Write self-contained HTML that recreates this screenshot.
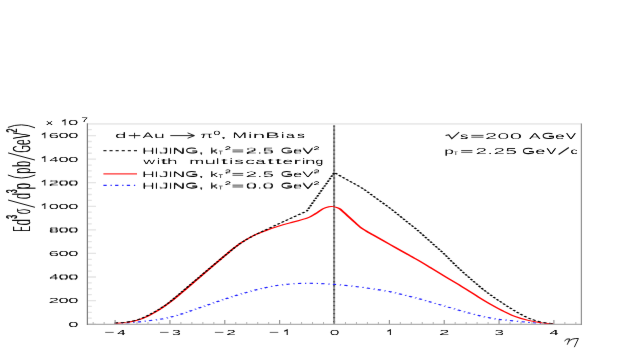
<!DOCTYPE html>
<html><head><meta charset="utf-8"><title>plot</title>
<style>
html,body{margin:0;padding:0;background:#fff;}
body{width:627px;height:349px;overflow:hidden;}
svg{display:block;}
text{font-family:"Liberation Sans",sans-serif;fill:#0a0a0a;font-kerning:none;text-rendering:geometricPrecision;}
</style></head><body>
<svg width="627" height="349" viewBox="0 0 627 349">
<defs><filter id="soft" filterUnits="userSpaceOnUse" x="0" y="0" width="627" height="349" color-interpolation-filters="sRGB"><feConvolveMatrix order="3" kernelMatrix="0.0016 0.0371 0.0016 0.0371 0.8450 0.0371 0.0016 0.0371 0.0016" edgeMode="duplicate" preserveAlpha="true"/></filter></defs>
<g filter="url(#soft)">
<rect x="0" y="0" width="627" height="349" fill="#ffffff"/>
<g transform="scale(1,0.4200)" fill="none">
<line x1="334.10" y1="298.81" x2="334.10" y2="771.43" stroke="#929292" stroke-width="2.0"/>
<line x1="334.10" y1="298.81" x2="334.10" y2="771.43" stroke="#555" stroke-width="2.0" stroke-dasharray="3.1 6.4"/>
<path d="M114.70 770.71 C119.27 769.84 132.97 767.98 142.10 765.48 C151.23 762.98 160.35 760.79 169.50 755.71 C178.65 750.63 187.85 742.22 197.00 735.00 C206.15 727.78 215.27 719.40 224.40 712.38 C233.53 705.36 242.65 698.41 251.80 692.86 C260.95 687.30 270.13 682.10 279.30 679.05 C288.47 675.99 297.65 674.84 306.80 674.52 C315.95 674.21 325.07 675.56 334.20 677.14 C343.33 678.73 352.47 681.19 361.60 684.05 C370.73 686.90 379.87 690.00 389.00 694.29 C398.13 698.57 407.27 704.09 416.40 709.76 C425.53 715.44 434.65 722.18 443.80 728.33 C452.95 734.48 463.17 741.67 471.30 746.67 C479.43 751.67 486.32 755.63 492.60 758.33 C498.88 761.03 503.05 761.31 509.00 762.86 C514.95 764.40 522.97 766.47 528.30 767.62 C533.63 768.77 536.80 769.17 541.00 769.76 C545.20 770.36 551.42 770.95 553.50 771.19" stroke="#2020ff" stroke-width="2.7" stroke-dasharray="3.3 3.8 1.3 3.3"/>
<path d="M114.70 770.24 C116.98 769.76 123.83 769.33 128.40 767.38 C132.97 765.44 137.53 762.78 142.10 758.57 C146.67 754.37 151.23 748.49 155.80 742.14 C160.37 735.79 162.63 733.25 169.50 720.48 C176.37 707.70 187.85 683.97 197.00 665.48 C206.15 646.98 217.23 623.77 224.40 609.52 C231.57 595.28 235.12 588.13 240.00 580.00 C244.88 571.87 249.40 565.91 253.70 560.71 C258.00 555.52 261.50 552.62 265.80 548.81 C270.10 545.00 274.92 541.23 279.50 537.86 C284.08 534.48 288.72 531.63 293.30 528.57 C297.88 525.52 303.28 522.86 307.00 519.52 C310.72 516.19 312.93 512.30 315.60 508.57 C318.27 504.84 320.77 499.88 323.00 497.14 C325.23 494.40 327.33 493.02 329.00 492.14 C330.67 491.27 331.33 491.23 333.00 491.90 C334.67 492.58 337.17 493.85 339.00 496.19 C340.83 498.53 342.25 502.34 344.00 505.95 C345.75 509.56 347.50 513.53 349.50 517.86 C351.50 522.18 354.08 527.82 356.00 531.90 C357.92 535.99 359.33 539.40 361.00 542.38 C362.67 545.36 364.00 546.94 366.00 549.76 C368.00 552.58 369.00 553.89 373.00 559.29 C377.00 564.68 385.50 576.11 390.00 582.14 C394.50 588.17 395.60 589.60 400.00 595.48 C404.40 601.35 411.40 610.52 416.40 617.38 C421.40 624.25 425.43 630.12 430.00 636.67 C434.57 643.21 438.97 649.76 443.80 656.67 C448.63 663.57 453.25 669.68 459.00 678.10 C464.75 686.51 473.13 699.52 478.30 707.14 C483.47 714.76 485.92 718.29 490.00 723.81 C494.08 729.33 498.55 735.20 502.80 740.24 C507.05 745.28 511.25 750.28 515.50 754.05 C519.75 757.82 524.05 760.48 528.30 762.86 C532.55 765.24 536.80 766.98 541.00 768.33 C545.20 769.68 551.42 770.52 553.50 770.95" stroke="#ff0000" stroke-width="2.4" stroke-linejoin="round"/>
<path d="M114.70 769.05 C116.98 768.57 123.83 768.13 128.40 766.19 C132.97 764.25 137.53 761.59 142.10 757.38 C146.67 753.17 151.23 747.30 155.80 740.95 C160.37 734.60 162.63 732.06 169.50 719.29 C176.37 706.51 187.85 682.58 197.00 664.29 C206.15 645.99 217.23 623.57 224.40 609.52 C231.57 595.48 235.12 588.13 240.00 580.00 C244.88 571.87 251.42 563.93 253.70 560.71 L279.30 532.14 L306.80 502.38 L334.30 410.95 L362.00 447.62 L389.00 493.81 L416.40 545.71 L443.80 603.57 C446.35 609.56 453.35 626.87 459.10 639.52 C464.85 652.18 473.15 669.21 478.30 679.52 C483.45 689.84 485.92 694.33 490.00 701.43 C494.08 708.53 498.55 715.52 502.80 722.14 C507.05 728.77 511.25 735.36 515.50 741.19 C519.75 747.02 524.05 752.90 528.30 757.14 C532.55 761.39 536.80 764.44 541.00 766.67 C545.20 768.89 551.42 769.84 553.50 770.48" stroke="#000" stroke-width="2.2" stroke-dasharray="3.6 2.5" stroke-linejoin="round"/>
</g>
<path d="M103.4 150.6H137" fill="none" stroke="#2a2a2a" stroke-width="1.4" stroke-dasharray="3.1 3.0"/>
<path d="M103.4 173.85H137" fill="none" stroke="#ff3030" stroke-width="1.45"/>
<path d="M103.4 185.3H137" fill="none" stroke="#2828ff" stroke-width="1.2" stroke-dasharray="3.3 3.8 1.3 3.3"/>
<g fill="none">
<path d="M87.40 324.10h8.6M87.40 318.21h4.4M87.40 312.32h4.4M87.40 306.43h4.4M87.40 300.54h8.6M87.40 294.65h4.4M87.40 288.76h4.4M87.40 282.87h4.4M87.40 276.98h8.6M87.40 271.08h4.4M87.40 265.19h4.4M87.40 259.30h4.4M87.40 253.41h8.6M87.40 247.52h4.4M87.40 241.63h4.4M87.40 235.74h4.4M87.40 229.85h8.6M87.40 223.96h4.4M87.40 218.07h4.4M87.40 212.18h4.4M87.40 206.29h8.6M87.40 200.40h4.4M87.40 194.51h4.4M87.40 188.62h4.4M87.40 182.72h8.6M87.40 176.83h4.4M87.40 170.94h4.4M87.40 165.05h4.4M87.40 159.16h8.6M87.40 153.27h4.4M87.40 147.38h4.4M87.40 141.49h4.4M87.40 135.60h8.6M87.40 129.71h4.4" stroke="#e4e4e4" stroke-width="1.3"/>
<path d="M115.10 324.40v-4.4M169.95 324.40v-4.4M224.80 324.40v-4.4M279.65 324.40v-4.4M334.50 324.40v-4.4M389.35 324.40v-4.4M444.20 324.40v-4.4M499.05 324.40v-4.4M553.90 324.40v-4.4" stroke="#868686" stroke-width="1.05"/>
<path d="M93.16 324.40v-2.4M104.13 324.40v-2.4M126.07 324.40v-2.4M137.04 324.40v-2.4M148.01 324.40v-2.4M158.98 324.40v-2.4M180.92 324.40v-2.4M191.89 324.40v-2.4M202.86 324.40v-2.4M213.83 324.40v-2.4M235.77 324.40v-2.4M246.74 324.40v-2.4M257.71 324.40v-2.4M268.68 324.40v-2.4M290.62 324.40v-2.4M301.59 324.40v-2.4M312.56 324.40v-2.4M323.53 324.40v-2.4M345.47 324.40v-2.4M356.44 324.40v-2.4M367.41 324.40v-2.4M378.38 324.40v-2.4M400.32 324.40v-2.4M411.29 324.40v-2.4M422.26 324.40v-2.4M433.23 324.40v-2.4M455.17 324.40v-2.4M466.14 324.40v-2.4M477.11 324.40v-2.4M488.08 324.40v-2.4M510.02 324.40v-2.4M520.99 324.40v-2.4M531.96 324.40v-2.4M542.93 324.40v-2.4M564.87 324.40v-2.4M575.84 324.40v-2.4" stroke="#b2b2b2" stroke-width="1.0"/>
<path d="M87.40 123.90H581.40" stroke="#eaeaea" stroke-width="1.6"/>
<path d="M87.40 324.40H582.00" stroke="#aeaeae" stroke-width="1.2"/>
<path d="M87.40 123.30V325.00" stroke="#7c7c7c" stroke-width="1.25"/>
<path d="M581.40 123.50V325.00" stroke="#909090" stroke-width="1.2"/>
</g>
<path d="M41.80 205.24L44.85 203.84V209.04" fill="none" stroke="#111" stroke-width="1.1" stroke-linejoin="miter"/>
<path d="M41.80 181.67L44.85 180.27V185.47" fill="none" stroke="#111" stroke-width="1.1" stroke-linejoin="miter"/>
<path d="M41.80 158.11L44.85 156.71V161.91" fill="none" stroke="#111" stroke-width="1.1" stroke-linejoin="miter"/>
<path d="M41.80 134.55L44.85 133.15V138.35" fill="none" stroke="#111" stroke-width="1.1" stroke-linejoin="miter"/>
<path d="M62.00 121.35L65.05 119.95V125.15" fill="none" stroke="#111" stroke-width="1.1" stroke-linejoin="miter"/>
<path d="M105.20 332.4H113.70" stroke="#333" stroke-width="0.75" fill="none"/>
<path d="M160.05 332.4H168.55" stroke="#333" stroke-width="0.75" fill="none"/>
<path d="M214.90 332.4H223.40" stroke="#333" stroke-width="0.75" fill="none"/>
<path d="M269.75 332.4H278.25" stroke="#333" stroke-width="0.75" fill="none"/>
<path d="M284.15 331.30L287.20 329.90V335.10" fill="none" stroke="#111" stroke-width="1.1" stroke-linejoin="miter"/>
<path d="M387.35 331.30L390.40 329.90V335.10" fill="none" stroke="#111" stroke-width="1.1" stroke-linejoin="miter"/>
<path d="M564.7 340.7Q566.6 338.2 569.7 338.9L567.4 344.3M568.7 341.5Q571.6 338.1 578.4 338.5L574.5 346.8" fill="none" stroke="#111" stroke-width="0.95" stroke-linecap="round" stroke-linejoin="round"/>
<path d="M128.8 135.6H140.3M134.55 132.8V138.4" fill="none" stroke="#111" stroke-width="0.9"/>
<path d="M170.3 135.6H194.2M187.6 132.9L194.4 135.6L187.6 138.3" fill="none" stroke="#111" stroke-width="0.9"/>
<path d="M195.74 148.63 C194.93 148.14 193.52 148.04 191.70 148.04 C188.67 148.04 186.65 148.93 186.65 150.52 C186.65 152.11 188.67 153.00 191.70 153.00 C194.22 153.00 196.04 152.85 196.75 152.11 L196.75 151.02 L192.31 151.02" fill="none" stroke="#0a0a0a" stroke-width="1.1" stroke-linejoin="round" stroke-linecap="butt"/>
<path d="M290.60 148.63 C289.84 148.14 288.51 148.04 286.80 148.04 C283.95 148.04 282.05 148.93 282.05 150.52 C282.05 152.11 283.95 153.00 286.80 153.00 C289.18 153.00 290.88 152.85 291.55 152.11 L291.55 151.02 L287.37 151.02" fill="none" stroke="#0a0a0a" stroke-width="1.1" stroke-linejoin="round" stroke-linecap="butt"/>
<path d="M232.50 150.05H243.20M232.50 151.85H243.20" fill="none" stroke="#111" stroke-width="0.75"/>
<path d="M195.74 172.03 C194.93 171.54 193.52 171.44 191.70 171.44 C188.67 171.44 186.65 172.33 186.65 173.92 C186.65 175.51 188.67 176.40 191.70 176.40 C194.22 176.40 196.04 176.25 196.75 175.51 L196.75 174.42 L192.31 174.42" fill="none" stroke="#0a0a0a" stroke-width="1.1" stroke-linejoin="round" stroke-linecap="butt"/>
<path d="M290.60 172.03 C289.84 171.54 288.51 171.44 286.80 171.44 C283.95 171.44 282.05 172.33 282.05 173.92 C282.05 175.51 283.95 176.40 286.80 176.40 C289.18 176.40 290.88 176.25 291.55 175.51 L291.55 174.42 L287.37 174.42" fill="none" stroke="#0a0a0a" stroke-width="1.1" stroke-linejoin="round" stroke-linecap="butt"/>
<path d="M232.50 173.45H243.20M232.50 175.25H243.20" fill="none" stroke="#111" stroke-width="0.75"/>
<path d="M195.74 183.73 C194.93 183.24 193.52 183.14 191.70 183.14 C188.67 183.14 186.65 184.03 186.65 185.62 C186.65 187.21 188.67 188.10 191.70 188.10 C194.22 188.10 196.04 187.95 196.75 187.21 L196.75 186.12 L192.31 186.12" fill="none" stroke="#0a0a0a" stroke-width="1.1" stroke-linejoin="round" stroke-linecap="butt"/>
<path d="M290.60 183.73 C289.84 183.24 288.51 183.14 286.80 183.14 C283.95 183.14 282.05 184.03 282.05 185.62 C282.05 187.21 283.95 188.10 286.80 188.10 C289.18 188.10 290.88 187.95 291.55 187.21 L291.55 186.12 L287.37 186.12" fill="none" stroke="#0a0a0a" stroke-width="1.1" stroke-linejoin="round" stroke-linecap="butt"/>
<path d="M232.50 185.15H243.20M232.50 186.95H243.20" fill="none" stroke="#111" stroke-width="0.75"/>
<path d="M445.6 135.5L448.8 134.8L451.8 138.6L459.2 132.2" fill="none" stroke="#111" stroke-width="1.1"/>
<path d="M552.42 133.83 C551.60 133.30 550.15 133.20 548.30 133.20 C545.21 133.20 543.15 134.15 543.15 135.85 C543.15 137.55 545.21 138.50 548.30 138.50 C550.88 138.50 552.73 138.34 553.45 137.55 L553.45 136.38 L548.92 136.38" fill="none" stroke="#0a0a0a" stroke-width="1.1" stroke-linejoin="round" stroke-linecap="butt"/>
<path d="M471.30 135.40H483.50M471.30 137.20H483.50" fill="none" stroke="#111" stroke-width="0.75"/>
<path d="M532.36 148.93 C531.57 148.40 530.18 148.30 528.40 148.30 C525.43 148.30 523.45 149.25 523.45 150.95 C523.45 152.65 525.43 153.60 528.40 153.60 C530.88 153.60 532.66 153.44 533.35 152.65 L533.35 151.48 L528.99 151.48" fill="none" stroke="#0a0a0a" stroke-width="1.1" stroke-linejoin="round" stroke-linecap="butt"/>
<path d="M461.20 150.50H472.40M461.20 152.30H472.40" fill="none" stroke="#111" stroke-width="0.75"/>
<path d="M558.6 154.6L568.8 147.4" fill="none" stroke="#111" stroke-width="1.2"/>
<clipPath id="tthin">
<text x="68.58" y="326.57" font-size="7.25" textLength="10.25" lengthAdjust="spacingAndGlyphs">0</text>
<text x="68.58" y="326.93" font-size="7.25" textLength="10.25" lengthAdjust="spacingAndGlyphs">0</text>
<text x="68.58" y="303.01" font-size="7.25" textLength="10.25" lengthAdjust="spacingAndGlyphs">0</text>
<text x="68.58" y="303.37" font-size="7.25" textLength="10.25" lengthAdjust="spacingAndGlyphs">0</text>
<text x="58.83" y="303.01" font-size="7.25" textLength="10.25" lengthAdjust="spacingAndGlyphs">0</text>
<text x="58.83" y="303.37" font-size="7.25" textLength="10.25" lengthAdjust="spacingAndGlyphs">0</text>
<text x="48.82" y="303.01" font-size="7.25" textLength="10.85" lengthAdjust="spacingAndGlyphs">2</text>
<text x="48.82" y="303.37" font-size="7.25" textLength="10.85" lengthAdjust="spacingAndGlyphs">2</text>
<text x="68.58" y="279.44" font-size="7.25" textLength="10.25" lengthAdjust="spacingAndGlyphs">0</text>
<text x="68.58" y="279.81" font-size="7.25" textLength="10.25" lengthAdjust="spacingAndGlyphs">0</text>
<text x="58.83" y="279.44" font-size="7.25" textLength="10.25" lengthAdjust="spacingAndGlyphs">0</text>
<text x="58.83" y="279.81" font-size="7.25" textLength="10.25" lengthAdjust="spacingAndGlyphs">0</text>
<text x="49.40" y="279.44" font-size="7.25" textLength="9.64" lengthAdjust="spacingAndGlyphs">4</text>
<text x="49.40" y="279.81" font-size="7.25" textLength="9.64" lengthAdjust="spacingAndGlyphs">4</text>
<text x="68.58" y="255.88" font-size="7.25" textLength="10.25" lengthAdjust="spacingAndGlyphs">0</text>
<text x="68.58" y="256.24" font-size="7.25" textLength="10.25" lengthAdjust="spacingAndGlyphs">0</text>
<text x="58.83" y="255.88" font-size="7.25" textLength="10.25" lengthAdjust="spacingAndGlyphs">0</text>
<text x="58.83" y="256.24" font-size="7.25" textLength="10.25" lengthAdjust="spacingAndGlyphs">0</text>
<text x="48.82" y="255.88" font-size="7.25" textLength="10.68" lengthAdjust="spacingAndGlyphs">6</text>
<text x="48.82" y="256.24" font-size="7.25" textLength="10.68" lengthAdjust="spacingAndGlyphs">6</text>
<text x="68.58" y="232.32" font-size="7.25" textLength="10.25" lengthAdjust="spacingAndGlyphs">0</text>
<text x="68.58" y="232.68" font-size="7.25" textLength="10.25" lengthAdjust="spacingAndGlyphs">0</text>
<text x="58.83" y="232.32" font-size="7.25" textLength="10.25" lengthAdjust="spacingAndGlyphs">0</text>
<text x="58.83" y="232.68" font-size="7.25" textLength="10.25" lengthAdjust="spacingAndGlyphs">0</text>
<text x="48.98" y="232.32" font-size="7.25" textLength="10.48" lengthAdjust="spacingAndGlyphs">8</text>
<text x="48.98" y="232.68" font-size="7.25" textLength="10.48" lengthAdjust="spacingAndGlyphs">8</text>
<text x="68.58" y="208.76" font-size="7.25" textLength="10.25" lengthAdjust="spacingAndGlyphs">0</text>
<text x="68.58" y="209.12" font-size="7.25" textLength="10.25" lengthAdjust="spacingAndGlyphs">0</text>
<text x="58.83" y="208.76" font-size="7.25" textLength="10.25" lengthAdjust="spacingAndGlyphs">0</text>
<text x="58.83" y="209.12" font-size="7.25" textLength="10.25" lengthAdjust="spacingAndGlyphs">0</text>
<text x="49.08" y="208.76" font-size="7.25" textLength="10.25" lengthAdjust="spacingAndGlyphs">0</text>
<text x="49.08" y="209.12" font-size="7.25" textLength="10.25" lengthAdjust="spacingAndGlyphs">0</text>
<text x="68.58" y="185.19" font-size="7.25" textLength="10.25" lengthAdjust="spacingAndGlyphs">0</text>
<text x="68.58" y="185.56" font-size="7.25" textLength="10.25" lengthAdjust="spacingAndGlyphs">0</text>
<text x="58.83" y="185.19" font-size="7.25" textLength="10.25" lengthAdjust="spacingAndGlyphs">0</text>
<text x="58.83" y="185.56" font-size="7.25" textLength="10.25" lengthAdjust="spacingAndGlyphs">0</text>
<text x="48.82" y="185.19" font-size="7.25" textLength="10.85" lengthAdjust="spacingAndGlyphs">2</text>
<text x="48.82" y="185.56" font-size="7.25" textLength="10.85" lengthAdjust="spacingAndGlyphs">2</text>
<text x="68.58" y="161.63" font-size="7.25" textLength="10.25" lengthAdjust="spacingAndGlyphs">0</text>
<text x="68.58" y="161.99" font-size="7.25" textLength="10.25" lengthAdjust="spacingAndGlyphs">0</text>
<text x="58.83" y="161.63" font-size="7.25" textLength="10.25" lengthAdjust="spacingAndGlyphs">0</text>
<text x="58.83" y="161.99" font-size="7.25" textLength="10.25" lengthAdjust="spacingAndGlyphs">0</text>
<text x="49.40" y="161.63" font-size="7.25" textLength="9.64" lengthAdjust="spacingAndGlyphs">4</text>
<text x="49.40" y="161.99" font-size="7.25" textLength="9.64" lengthAdjust="spacingAndGlyphs">4</text>
<text x="68.58" y="138.07" font-size="7.25" textLength="10.25" lengthAdjust="spacingAndGlyphs">0</text>
<text x="68.58" y="138.43" font-size="7.25" textLength="10.25" lengthAdjust="spacingAndGlyphs">0</text>
<text x="58.83" y="138.07" font-size="7.25" textLength="10.25" lengthAdjust="spacingAndGlyphs">0</text>
<text x="58.83" y="138.43" font-size="7.25" textLength="10.25" lengthAdjust="spacingAndGlyphs">0</text>
<text x="48.82" y="138.07" font-size="7.25" textLength="10.68" lengthAdjust="spacingAndGlyphs">6</text>
<text x="48.82" y="138.43" font-size="7.25" textLength="10.68" lengthAdjust="spacingAndGlyphs">6</text>
<text x="46.04" y="124.87" font-size="7.25" textLength="7.11" lengthAdjust="spacingAndGlyphs">x</text>
<text x="46.04" y="125.23" font-size="7.25" textLength="7.11" lengthAdjust="spacingAndGlyphs">x</text>
<text x="68.27" y="124.87" font-size="7.25" textLength="10.39" lengthAdjust="spacingAndGlyphs">0</text>
<text x="68.27" y="125.23" font-size="7.25" textLength="10.39" lengthAdjust="spacingAndGlyphs">0</text>
<text x="81.37" y="122.12" font-size="6.40" textLength="6.85" lengthAdjust="spacingAndGlyphs">7</text>
<text x="81.37" y="122.48" font-size="6.40" textLength="6.85" lengthAdjust="spacingAndGlyphs">7</text>
<text x="117.35" y="334.82" font-size="7.25" textLength="8.60" lengthAdjust="spacingAndGlyphs">4</text>
<text x="117.35" y="335.18" font-size="7.25" textLength="8.60" lengthAdjust="spacingAndGlyphs">4</text>
<text x="171.92" y="334.82" font-size="7.25" textLength="9.24" lengthAdjust="spacingAndGlyphs">3</text>
<text x="171.92" y="335.18" font-size="7.25" textLength="9.24" lengthAdjust="spacingAndGlyphs">3</text>
<text x="226.52" y="334.82" font-size="7.25" textLength="9.68" lengthAdjust="spacingAndGlyphs">2</text>
<text x="226.52" y="335.18" font-size="7.25" textLength="9.68" lengthAdjust="spacingAndGlyphs">2</text>
<text x="329.90" y="334.82" font-size="7.25" textLength="9.98" lengthAdjust="spacingAndGlyphs">0</text>
<text x="329.90" y="335.18" font-size="7.25" textLength="9.98" lengthAdjust="spacingAndGlyphs">0</text>
<text x="439.35" y="334.82" font-size="7.25" textLength="10.56" lengthAdjust="spacingAndGlyphs">2</text>
<text x="439.35" y="335.18" font-size="7.25" textLength="10.56" lengthAdjust="spacingAndGlyphs">2</text>
<text x="494.46" y="334.82" font-size="7.25" textLength="10.07" lengthAdjust="spacingAndGlyphs">3</text>
<text x="494.46" y="335.18" font-size="7.25" textLength="10.07" lengthAdjust="spacingAndGlyphs">3</text>
<text x="549.61" y="334.82" font-size="7.25" textLength="9.38" lengthAdjust="spacingAndGlyphs">4</text>
<text x="549.61" y="335.18" font-size="7.25" textLength="9.38" lengthAdjust="spacingAndGlyphs">4</text>
<text x="115.21" y="138.12" font-size="7.85" textLength="11.84" lengthAdjust="spacingAndGlyphs">d</text>
<text x="115.21" y="138.48" font-size="7.85" textLength="11.84" lengthAdjust="spacingAndGlyphs">d</text>
<text x="142.67" y="138.12" font-size="7.85" textLength="10.78" lengthAdjust="spacingAndGlyphs">A</text>
<text x="142.67" y="138.48" font-size="7.85" textLength="10.78" lengthAdjust="spacingAndGlyphs">A</text>
<text x="154.21" y="138.12" font-size="7.85" textLength="11.09" lengthAdjust="spacingAndGlyphs">u</text>
<text x="154.21" y="138.48" font-size="7.85" textLength="11.09" lengthAdjust="spacingAndGlyphs">u</text>
<text x="200.15" y="138.12" font-size="7.85" textLength="13.48" lengthAdjust="spacingAndGlyphs">&#960;</text>
<text x="200.15" y="138.48" font-size="7.85" textLength="13.48" lengthAdjust="spacingAndGlyphs">&#960;</text>
<text x="219.75" y="138.12" font-size="7.85" textLength="8.21" lengthAdjust="spacingAndGlyphs">,</text>
<text x="219.75" y="138.48" font-size="7.85" textLength="8.21" lengthAdjust="spacingAndGlyphs">,</text>
<text x="232.44" y="138.12" font-size="7.85" textLength="14.88" lengthAdjust="spacingAndGlyphs">M</text>
<text x="232.44" y="138.48" font-size="7.85" textLength="14.88" lengthAdjust="spacingAndGlyphs">M</text>
<text x="248.43" y="138.12" font-size="7.85" textLength="3.88" lengthAdjust="spacingAndGlyphs">i</text>
<text x="248.43" y="138.48" font-size="7.85" textLength="3.88" lengthAdjust="spacingAndGlyphs">i</text>
<text x="253.08" y="138.12" font-size="7.85" textLength="12.70" lengthAdjust="spacingAndGlyphs">n</text>
<text x="253.08" y="138.48" font-size="7.85" textLength="12.70" lengthAdjust="spacingAndGlyphs">n</text>
<text x="265.61" y="138.12" font-size="7.85" textLength="14.54" lengthAdjust="spacingAndGlyphs">B</text>
<text x="265.61" y="138.48" font-size="7.85" textLength="14.54" lengthAdjust="spacingAndGlyphs">B</text>
<text x="281.03" y="138.12" font-size="7.85" textLength="3.88" lengthAdjust="spacingAndGlyphs">i</text>
<text x="281.03" y="138.48" font-size="7.85" textLength="3.88" lengthAdjust="spacingAndGlyphs">i</text>
<text x="285.99" y="138.12" font-size="7.85" textLength="9.24" lengthAdjust="spacingAndGlyphs">a</text>
<text x="285.99" y="138.48" font-size="7.85" textLength="9.24" lengthAdjust="spacingAndGlyphs">a</text>
<text x="297.05" y="138.12" font-size="7.85" textLength="8.15" lengthAdjust="spacingAndGlyphs">s</text>
<text x="297.05" y="138.48" font-size="7.85" textLength="8.15" lengthAdjust="spacingAndGlyphs">s</text>
<text x="213.42" y="135.12" font-size="6.20" textLength="6.86" lengthAdjust="spacingAndGlyphs">0</text>
<text x="213.42" y="135.48" font-size="6.20" textLength="6.86" lengthAdjust="spacingAndGlyphs">0</text>
<text x="142.34" y="153.22" font-size="7.85" textLength="12.84" lengthAdjust="spacingAndGlyphs">H</text>
<text x="142.34" y="153.58" font-size="7.85" textLength="12.84" lengthAdjust="spacingAndGlyphs">H</text>
<text x="154.81" y="153.22" font-size="7.85" textLength="3.28" lengthAdjust="spacingAndGlyphs">I</text>
<text x="154.81" y="153.58" font-size="7.85" textLength="3.28" lengthAdjust="spacingAndGlyphs">I</text>
<text x="159.08" y="153.22" font-size="7.85" textLength="10.39" lengthAdjust="spacingAndGlyphs">J</text>
<text x="159.08" y="153.58" font-size="7.85" textLength="10.39" lengthAdjust="spacingAndGlyphs">J</text>
<text x="168.91" y="153.22" font-size="7.85" textLength="3.28" lengthAdjust="spacingAndGlyphs">I</text>
<text x="168.91" y="153.58" font-size="7.85" textLength="3.28" lengthAdjust="spacingAndGlyphs">I</text>
<text x="172.64" y="153.22" font-size="7.85" textLength="12.84" lengthAdjust="spacingAndGlyphs">N</text>
<text x="172.64" y="153.58" font-size="7.85" textLength="12.84" lengthAdjust="spacingAndGlyphs">N</text>
<text x="197.73" y="153.22" font-size="7.85" textLength="7.64" lengthAdjust="spacingAndGlyphs">,</text>
<text x="197.73" y="153.58" font-size="7.85" textLength="7.64" lengthAdjust="spacingAndGlyphs">,</text>
<text x="210.21" y="153.22" font-size="7.85" textLength="8.05" lengthAdjust="spacingAndGlyphs">k</text>
<text x="210.21" y="153.58" font-size="7.85" textLength="8.05" lengthAdjust="spacingAndGlyphs">k</text>
<text x="245.82" y="153.22" font-size="7.85" textLength="11.95" lengthAdjust="spacingAndGlyphs">2</text>
<text x="245.82" y="153.58" font-size="7.85" textLength="11.95" lengthAdjust="spacingAndGlyphs">2</text>
<text x="257.64" y="153.22" font-size="7.85" textLength="4.75" lengthAdjust="spacingAndGlyphs">.</text>
<text x="257.64" y="153.58" font-size="7.85" textLength="4.75" lengthAdjust="spacingAndGlyphs">.</text>
<text x="262.75" y="153.22" font-size="7.85" textLength="11.82" lengthAdjust="spacingAndGlyphs">5</text>
<text x="262.75" y="153.58" font-size="7.85" textLength="11.82" lengthAdjust="spacingAndGlyphs">5</text>
<text x="293.29" y="153.22" font-size="7.85" textLength="9.29" lengthAdjust="spacingAndGlyphs">e</text>
<text x="293.29" y="153.58" font-size="7.85" textLength="9.29" lengthAdjust="spacingAndGlyphs">e</text>
<text x="302.53" y="153.22" font-size="7.85" textLength="11.33" lengthAdjust="spacingAndGlyphs">V</text>
<text x="302.53" y="153.58" font-size="7.85" textLength="11.33" lengthAdjust="spacingAndGlyphs">V</text>
<text x="218.43" y="154.22" font-size="5.00" textLength="4.54" lengthAdjust="spacingAndGlyphs">T</text>
<text x="218.43" y="154.58" font-size="5.00" textLength="4.54" lengthAdjust="spacingAndGlyphs">T</text>
<text x="224.83" y="149.60" font-size="4.90" textLength="6.35" lengthAdjust="spacingAndGlyphs">2</text>
<text x="224.83" y="150.10" font-size="4.90" textLength="6.35" lengthAdjust="spacingAndGlyphs">2</text>
<text x="224.83" y="149.85" font-size="4.90" textLength="6.35" lengthAdjust="spacingAndGlyphs">2</text>
<text x="313.45" y="149.60" font-size="4.90" textLength="6.10" lengthAdjust="spacingAndGlyphs">2</text>
<text x="313.45" y="150.10" font-size="4.90" textLength="6.10" lengthAdjust="spacingAndGlyphs">2</text>
<text x="313.45" y="149.85" font-size="4.90" textLength="6.10" lengthAdjust="spacingAndGlyphs">2</text>
<text x="143.52" y="163.72" font-size="7.85" textLength="11.88" lengthAdjust="spacingAndGlyphs">w</text>
<text x="143.52" y="164.08" font-size="7.85" textLength="11.88" lengthAdjust="spacingAndGlyphs">w</text>
<text x="157.13" y="163.72" font-size="7.85" textLength="2.88" lengthAdjust="spacingAndGlyphs">i</text>
<text x="157.13" y="164.08" font-size="7.85" textLength="2.88" lengthAdjust="spacingAndGlyphs">i</text>
<text x="160.80" y="163.72" font-size="7.85" textLength="7.29" lengthAdjust="spacingAndGlyphs">t</text>
<text x="160.80" y="164.08" font-size="7.85" textLength="7.29" lengthAdjust="spacingAndGlyphs">t</text>
<text x="167.25" y="163.72" font-size="7.85" textLength="10.86" lengthAdjust="spacingAndGlyphs">h</text>
<text x="167.25" y="164.08" font-size="7.85" textLength="10.86" lengthAdjust="spacingAndGlyphs">h</text>
<text x="189.60" y="163.72" font-size="7.85" textLength="15.06" lengthAdjust="spacingAndGlyphs">m</text>
<text x="189.60" y="164.08" font-size="7.85" textLength="15.06" lengthAdjust="spacingAndGlyphs">m</text>
<text x="204.73" y="163.72" font-size="7.85" textLength="11.72" lengthAdjust="spacingAndGlyphs">u</text>
<text x="204.73" y="164.08" font-size="7.85" textLength="11.72" lengthAdjust="spacingAndGlyphs">u</text>
<text x="216.33" y="163.72" font-size="7.85" textLength="2.88" lengthAdjust="spacingAndGlyphs">l</text>
<text x="216.33" y="164.08" font-size="7.85" textLength="2.88" lengthAdjust="spacingAndGlyphs">l</text>
<text x="221.10" y="163.72" font-size="7.85" textLength="7.40" lengthAdjust="spacingAndGlyphs">t</text>
<text x="221.10" y="164.08" font-size="7.85" textLength="7.40" lengthAdjust="spacingAndGlyphs">t</text>
<text x="229.53" y="163.72" font-size="7.85" textLength="3.88" lengthAdjust="spacingAndGlyphs">i</text>
<text x="229.53" y="164.08" font-size="7.85" textLength="3.88" lengthAdjust="spacingAndGlyphs">i</text>
<text x="234.45" y="163.72" font-size="7.85" textLength="9.94" lengthAdjust="spacingAndGlyphs">s</text>
<text x="234.45" y="164.08" font-size="7.85" textLength="9.94" lengthAdjust="spacingAndGlyphs">s</text>
<text x="245.54" y="163.72" font-size="7.85" textLength="10.07" lengthAdjust="spacingAndGlyphs">c</text>
<text x="245.54" y="164.08" font-size="7.85" textLength="10.07" lengthAdjust="spacingAndGlyphs">c</text>
<text x="255.60" y="163.72" font-size="7.85" textLength="10.51" lengthAdjust="spacingAndGlyphs">a</text>
<text x="255.60" y="164.08" font-size="7.85" textLength="10.51" lengthAdjust="spacingAndGlyphs">a</text>
<text x="267.43" y="163.72" font-size="7.85" textLength="6.85" lengthAdjust="spacingAndGlyphs">t</text>
<text x="267.43" y="164.08" font-size="7.85" textLength="6.85" lengthAdjust="spacingAndGlyphs">t</text>
<text x="275.31" y="163.72" font-size="7.85" textLength="7.18" lengthAdjust="spacingAndGlyphs">t</text>
<text x="275.31" y="164.08" font-size="7.85" textLength="7.18" lengthAdjust="spacingAndGlyphs">t</text>
<text x="282.66" y="163.72" font-size="7.85" textLength="10.98" lengthAdjust="spacingAndGlyphs">e</text>
<text x="282.66" y="164.08" font-size="7.85" textLength="10.98" lengthAdjust="spacingAndGlyphs">e</text>
<text x="293.58" y="163.72" font-size="7.85" textLength="8.13" lengthAdjust="spacingAndGlyphs">r</text>
<text x="293.58" y="164.08" font-size="7.85" textLength="8.13" lengthAdjust="spacingAndGlyphs">r</text>
<text x="302.33" y="163.72" font-size="7.85" textLength="2.88" lengthAdjust="spacingAndGlyphs">i</text>
<text x="302.33" y="164.08" font-size="7.85" textLength="2.88" lengthAdjust="spacingAndGlyphs">i</text>
<text x="305.33" y="163.72" font-size="7.85" textLength="10.61" lengthAdjust="spacingAndGlyphs">n</text>
<text x="305.33" y="164.08" font-size="7.85" textLength="10.61" lengthAdjust="spacingAndGlyphs">n</text>
<text x="315.60" y="163.72" font-size="7.85" textLength="8.00" lengthAdjust="spacingAndGlyphs">g</text>
<text x="315.60" y="164.08" font-size="7.85" textLength="8.00" lengthAdjust="spacingAndGlyphs">g</text>
<text x="142.34" y="176.62" font-size="7.85" textLength="12.84" lengthAdjust="spacingAndGlyphs">H</text>
<text x="142.34" y="176.98" font-size="7.85" textLength="12.84" lengthAdjust="spacingAndGlyphs">H</text>
<text x="154.81" y="176.62" font-size="7.85" textLength="3.28" lengthAdjust="spacingAndGlyphs">I</text>
<text x="154.81" y="176.98" font-size="7.85" textLength="3.28" lengthAdjust="spacingAndGlyphs">I</text>
<text x="159.08" y="176.62" font-size="7.85" textLength="10.39" lengthAdjust="spacingAndGlyphs">J</text>
<text x="159.08" y="176.98" font-size="7.85" textLength="10.39" lengthAdjust="spacingAndGlyphs">J</text>
<text x="168.91" y="176.62" font-size="7.85" textLength="3.28" lengthAdjust="spacingAndGlyphs">I</text>
<text x="168.91" y="176.98" font-size="7.85" textLength="3.28" lengthAdjust="spacingAndGlyphs">I</text>
<text x="172.64" y="176.62" font-size="7.85" textLength="12.84" lengthAdjust="spacingAndGlyphs">N</text>
<text x="172.64" y="176.98" font-size="7.85" textLength="12.84" lengthAdjust="spacingAndGlyphs">N</text>
<text x="197.73" y="176.62" font-size="7.85" textLength="7.64" lengthAdjust="spacingAndGlyphs">,</text>
<text x="197.73" y="176.98" font-size="7.85" textLength="7.64" lengthAdjust="spacingAndGlyphs">,</text>
<text x="210.21" y="176.62" font-size="7.85" textLength="8.05" lengthAdjust="spacingAndGlyphs">k</text>
<text x="210.21" y="176.98" font-size="7.85" textLength="8.05" lengthAdjust="spacingAndGlyphs">k</text>
<text x="245.82" y="176.62" font-size="7.85" textLength="11.95" lengthAdjust="spacingAndGlyphs">2</text>
<text x="245.82" y="176.98" font-size="7.85" textLength="11.95" lengthAdjust="spacingAndGlyphs">2</text>
<text x="257.64" y="176.62" font-size="7.85" textLength="4.75" lengthAdjust="spacingAndGlyphs">.</text>
<text x="257.64" y="176.98" font-size="7.85" textLength="4.75" lengthAdjust="spacingAndGlyphs">.</text>
<text x="262.75" y="176.62" font-size="7.85" textLength="11.82" lengthAdjust="spacingAndGlyphs">5</text>
<text x="262.75" y="176.98" font-size="7.85" textLength="11.82" lengthAdjust="spacingAndGlyphs">5</text>
<text x="293.29" y="176.62" font-size="7.85" textLength="9.29" lengthAdjust="spacingAndGlyphs">e</text>
<text x="293.29" y="176.98" font-size="7.85" textLength="9.29" lengthAdjust="spacingAndGlyphs">e</text>
<text x="302.53" y="176.62" font-size="7.85" textLength="11.33" lengthAdjust="spacingAndGlyphs">V</text>
<text x="302.53" y="176.98" font-size="7.85" textLength="11.33" lengthAdjust="spacingAndGlyphs">V</text>
<text x="218.43" y="177.62" font-size="5.00" textLength="4.54" lengthAdjust="spacingAndGlyphs">T</text>
<text x="218.43" y="177.98" font-size="5.00" textLength="4.54" lengthAdjust="spacingAndGlyphs">T</text>
<text x="224.83" y="173.00" font-size="4.90" textLength="6.35" lengthAdjust="spacingAndGlyphs">2</text>
<text x="224.83" y="173.50" font-size="4.90" textLength="6.35" lengthAdjust="spacingAndGlyphs">2</text>
<text x="224.83" y="173.25" font-size="4.90" textLength="6.35" lengthAdjust="spacingAndGlyphs">2</text>
<text x="313.45" y="173.00" font-size="4.90" textLength="6.10" lengthAdjust="spacingAndGlyphs">2</text>
<text x="313.45" y="173.50" font-size="4.90" textLength="6.10" lengthAdjust="spacingAndGlyphs">2</text>
<text x="313.45" y="173.25" font-size="4.90" textLength="6.10" lengthAdjust="spacingAndGlyphs">2</text>
<text x="142.34" y="188.32" font-size="7.85" textLength="12.84" lengthAdjust="spacingAndGlyphs">H</text>
<text x="142.34" y="188.68" font-size="7.85" textLength="12.84" lengthAdjust="spacingAndGlyphs">H</text>
<text x="154.81" y="188.32" font-size="7.85" textLength="3.28" lengthAdjust="spacingAndGlyphs">I</text>
<text x="154.81" y="188.68" font-size="7.85" textLength="3.28" lengthAdjust="spacingAndGlyphs">I</text>
<text x="159.08" y="188.32" font-size="7.85" textLength="10.39" lengthAdjust="spacingAndGlyphs">J</text>
<text x="159.08" y="188.68" font-size="7.85" textLength="10.39" lengthAdjust="spacingAndGlyphs">J</text>
<text x="168.91" y="188.32" font-size="7.85" textLength="3.28" lengthAdjust="spacingAndGlyphs">I</text>
<text x="168.91" y="188.68" font-size="7.85" textLength="3.28" lengthAdjust="spacingAndGlyphs">I</text>
<text x="172.64" y="188.32" font-size="7.85" textLength="12.84" lengthAdjust="spacingAndGlyphs">N</text>
<text x="172.64" y="188.68" font-size="7.85" textLength="12.84" lengthAdjust="spacingAndGlyphs">N</text>
<text x="197.73" y="188.32" font-size="7.85" textLength="7.64" lengthAdjust="spacingAndGlyphs">,</text>
<text x="197.73" y="188.68" font-size="7.85" textLength="7.64" lengthAdjust="spacingAndGlyphs">,</text>
<text x="210.21" y="188.32" font-size="7.85" textLength="8.05" lengthAdjust="spacingAndGlyphs">k</text>
<text x="210.21" y="188.68" font-size="7.85" textLength="8.05" lengthAdjust="spacingAndGlyphs">k</text>
<text x="246.11" y="188.32" font-size="7.85" textLength="11.29" lengthAdjust="spacingAndGlyphs">0</text>
<text x="246.11" y="188.68" font-size="7.85" textLength="11.29" lengthAdjust="spacingAndGlyphs">0</text>
<text x="257.64" y="188.32" font-size="7.85" textLength="4.75" lengthAdjust="spacingAndGlyphs">.</text>
<text x="257.64" y="188.68" font-size="7.85" textLength="4.75" lengthAdjust="spacingAndGlyphs">.</text>
<text x="262.78" y="188.32" font-size="7.85" textLength="11.71" lengthAdjust="spacingAndGlyphs">0</text>
<text x="262.78" y="188.68" font-size="7.85" textLength="11.71" lengthAdjust="spacingAndGlyphs">0</text>
<text x="293.29" y="188.32" font-size="7.85" textLength="9.29" lengthAdjust="spacingAndGlyphs">e</text>
<text x="293.29" y="188.68" font-size="7.85" textLength="9.29" lengthAdjust="spacingAndGlyphs">e</text>
<text x="302.53" y="188.32" font-size="7.85" textLength="11.33" lengthAdjust="spacingAndGlyphs">V</text>
<text x="302.53" y="188.68" font-size="7.85" textLength="11.33" lengthAdjust="spacingAndGlyphs">V</text>
<text x="218.43" y="189.32" font-size="5.00" textLength="4.54" lengthAdjust="spacingAndGlyphs">T</text>
<text x="218.43" y="189.68" font-size="5.00" textLength="4.54" lengthAdjust="spacingAndGlyphs">T</text>
<text x="224.83" y="184.70" font-size="4.90" textLength="6.35" lengthAdjust="spacingAndGlyphs">2</text>
<text x="224.83" y="185.20" font-size="4.90" textLength="6.35" lengthAdjust="spacingAndGlyphs">2</text>
<text x="224.83" y="184.95" font-size="4.90" textLength="6.35" lengthAdjust="spacingAndGlyphs">2</text>
<text x="313.45" y="184.70" font-size="4.90" textLength="6.10" lengthAdjust="spacingAndGlyphs">2</text>
<text x="313.45" y="185.20" font-size="4.90" textLength="6.10" lengthAdjust="spacingAndGlyphs">2</text>
<text x="313.45" y="184.95" font-size="4.90" textLength="6.10" lengthAdjust="spacingAndGlyphs">2</text>
<text x="460.11" y="138.72" font-size="8.35" textLength="8.84" lengthAdjust="spacingAndGlyphs">s</text>
<text x="460.11" y="139.08" font-size="8.35" textLength="8.84" lengthAdjust="spacingAndGlyphs">s</text>
<text x="485.28" y="138.72" font-size="8.35" textLength="12.33" lengthAdjust="spacingAndGlyphs">2</text>
<text x="485.28" y="139.08" font-size="8.35" textLength="12.33" lengthAdjust="spacingAndGlyphs">2</text>
<text x="497.66" y="138.72" font-size="8.35" textLength="11.98" lengthAdjust="spacingAndGlyphs">0</text>
<text x="497.66" y="139.08" font-size="8.35" textLength="11.98" lengthAdjust="spacingAndGlyphs">0</text>
<text x="510.14" y="138.72" font-size="8.35" textLength="12.22" lengthAdjust="spacingAndGlyphs">0</text>
<text x="510.14" y="139.08" font-size="8.35" textLength="12.22" lengthAdjust="spacingAndGlyphs">0</text>
<text x="529.27" y="138.72" font-size="8.35" textLength="11.69" lengthAdjust="spacingAndGlyphs">A</text>
<text x="529.27" y="139.08" font-size="8.35" textLength="11.69" lengthAdjust="spacingAndGlyphs">A</text>
<text x="555.36" y="138.72" font-size="8.35" textLength="9.71" lengthAdjust="spacingAndGlyphs">e</text>
<text x="555.36" y="139.08" font-size="8.35" textLength="9.71" lengthAdjust="spacingAndGlyphs">e</text>
<text x="565.93" y="138.72" font-size="8.35" textLength="10.18" lengthAdjust="spacingAndGlyphs">V</text>
<text x="565.93" y="139.08" font-size="8.35" textLength="10.18" lengthAdjust="spacingAndGlyphs">V</text>
<text x="444.48" y="153.82" font-size="8.35" textLength="9.62" lengthAdjust="spacingAndGlyphs">p</text>
<text x="444.48" y="154.18" font-size="8.35" textLength="9.62" lengthAdjust="spacingAndGlyphs">p</text>
<text x="475.73" y="153.82" font-size="8.35" textLength="11.80" lengthAdjust="spacingAndGlyphs">2</text>
<text x="475.73" y="154.18" font-size="8.35" textLength="11.80" lengthAdjust="spacingAndGlyphs">2</text>
<text x="488.04" y="153.82" font-size="8.35" textLength="4.75" lengthAdjust="spacingAndGlyphs">.</text>
<text x="488.04" y="154.18" font-size="8.35" textLength="4.75" lengthAdjust="spacingAndGlyphs">.</text>
<text x="493.65" y="153.82" font-size="8.35" textLength="11.66" lengthAdjust="spacingAndGlyphs">2</text>
<text x="493.65" y="154.18" font-size="8.35" textLength="11.66" lengthAdjust="spacingAndGlyphs">2</text>
<text x="505.43" y="153.82" font-size="8.35" textLength="12.08" lengthAdjust="spacingAndGlyphs">5</text>
<text x="505.43" y="154.18" font-size="8.35" textLength="12.08" lengthAdjust="spacingAndGlyphs">5</text>
<text x="535.63" y="153.82" font-size="8.35" textLength="10.14" lengthAdjust="spacingAndGlyphs">e</text>
<text x="535.63" y="154.18" font-size="8.35" textLength="10.14" lengthAdjust="spacingAndGlyphs">e</text>
<text x="546.53" y="153.82" font-size="8.35" textLength="9.95" lengthAdjust="spacingAndGlyphs">V</text>
<text x="546.53" y="154.18" font-size="8.35" textLength="9.95" lengthAdjust="spacingAndGlyphs">V</text>
<text x="570.59" y="153.82" font-size="8.35" textLength="7.14" lengthAdjust="spacingAndGlyphs">c</text>
<text x="570.59" y="154.18" font-size="8.35" textLength="7.14" lengthAdjust="spacingAndGlyphs">c</text>
<text x="453.43" y="154.82" font-size="5.20" textLength="4.75" lengthAdjust="spacingAndGlyphs">T</text>
<text x="453.43" y="155.18" font-size="5.20" textLength="4.75" lengthAdjust="spacingAndGlyphs">T</text>
</clipPath>
<g clip-path="url(#tthin)">
<text x="67.98" y="326.57" font-size="7.25" textLength="10.25" lengthAdjust="spacingAndGlyphs">0</text>
<text x="67.98" y="326.93" font-size="7.25" textLength="10.25" lengthAdjust="spacingAndGlyphs">0</text>
<text x="67.98" y="303.01" font-size="7.25" textLength="10.25" lengthAdjust="spacingAndGlyphs">0</text>
<text x="67.98" y="303.37" font-size="7.25" textLength="10.25" lengthAdjust="spacingAndGlyphs">0</text>
<text x="58.23" y="303.01" font-size="7.25" textLength="10.25" lengthAdjust="spacingAndGlyphs">0</text>
<text x="58.23" y="303.37" font-size="7.25" textLength="10.25" lengthAdjust="spacingAndGlyphs">0</text>
<text x="48.12" y="303.01" font-size="7.25" textLength="10.85" lengthAdjust="spacingAndGlyphs">2</text>
<text x="48.12" y="303.37" font-size="7.25" textLength="10.85" lengthAdjust="spacingAndGlyphs">2</text>
<text x="67.98" y="279.44" font-size="7.25" textLength="10.25" lengthAdjust="spacingAndGlyphs">0</text>
<text x="67.98" y="279.81" font-size="7.25" textLength="10.25" lengthAdjust="spacingAndGlyphs">0</text>
<text x="58.23" y="279.44" font-size="7.25" textLength="10.25" lengthAdjust="spacingAndGlyphs">0</text>
<text x="58.23" y="279.81" font-size="7.25" textLength="10.25" lengthAdjust="spacingAndGlyphs">0</text>
<text x="48.89" y="279.44" font-size="7.25" textLength="9.64" lengthAdjust="spacingAndGlyphs">4</text>
<text x="48.89" y="279.81" font-size="7.25" textLength="9.64" lengthAdjust="spacingAndGlyphs">4</text>
<text x="67.98" y="255.88" font-size="7.25" textLength="10.25" lengthAdjust="spacingAndGlyphs">0</text>
<text x="67.98" y="256.24" font-size="7.25" textLength="10.25" lengthAdjust="spacingAndGlyphs">0</text>
<text x="58.23" y="255.88" font-size="7.25" textLength="10.25" lengthAdjust="spacingAndGlyphs">0</text>
<text x="58.23" y="256.24" font-size="7.25" textLength="10.25" lengthAdjust="spacingAndGlyphs">0</text>
<text x="48.15" y="255.88" font-size="7.25" textLength="10.68" lengthAdjust="spacingAndGlyphs">6</text>
<text x="48.15" y="256.24" font-size="7.25" textLength="10.68" lengthAdjust="spacingAndGlyphs">6</text>
<text x="67.98" y="232.32" font-size="7.25" textLength="10.25" lengthAdjust="spacingAndGlyphs">0</text>
<text x="67.98" y="232.68" font-size="7.25" textLength="10.25" lengthAdjust="spacingAndGlyphs">0</text>
<text x="58.23" y="232.32" font-size="7.25" textLength="10.25" lengthAdjust="spacingAndGlyphs">0</text>
<text x="58.23" y="232.68" font-size="7.25" textLength="10.25" lengthAdjust="spacingAndGlyphs">0</text>
<text x="48.34" y="232.32" font-size="7.25" textLength="10.48" lengthAdjust="spacingAndGlyphs">8</text>
<text x="48.34" y="232.68" font-size="7.25" textLength="10.48" lengthAdjust="spacingAndGlyphs">8</text>
<text x="67.98" y="208.76" font-size="7.25" textLength="10.25" lengthAdjust="spacingAndGlyphs">0</text>
<text x="67.98" y="209.12" font-size="7.25" textLength="10.25" lengthAdjust="spacingAndGlyphs">0</text>
<text x="58.23" y="208.76" font-size="7.25" textLength="10.25" lengthAdjust="spacingAndGlyphs">0</text>
<text x="58.23" y="209.12" font-size="7.25" textLength="10.25" lengthAdjust="spacingAndGlyphs">0</text>
<text x="48.48" y="208.76" font-size="7.25" textLength="10.25" lengthAdjust="spacingAndGlyphs">0</text>
<text x="48.48" y="209.12" font-size="7.25" textLength="10.25" lengthAdjust="spacingAndGlyphs">0</text>
<text x="67.98" y="185.19" font-size="7.25" textLength="10.25" lengthAdjust="spacingAndGlyphs">0</text>
<text x="67.98" y="185.56" font-size="7.25" textLength="10.25" lengthAdjust="spacingAndGlyphs">0</text>
<text x="58.23" y="185.19" font-size="7.25" textLength="10.25" lengthAdjust="spacingAndGlyphs">0</text>
<text x="58.23" y="185.56" font-size="7.25" textLength="10.25" lengthAdjust="spacingAndGlyphs">0</text>
<text x="48.12" y="185.19" font-size="7.25" textLength="10.85" lengthAdjust="spacingAndGlyphs">2</text>
<text x="48.12" y="185.56" font-size="7.25" textLength="10.85" lengthAdjust="spacingAndGlyphs">2</text>
<text x="67.98" y="161.63" font-size="7.25" textLength="10.25" lengthAdjust="spacingAndGlyphs">0</text>
<text x="67.98" y="161.99" font-size="7.25" textLength="10.25" lengthAdjust="spacingAndGlyphs">0</text>
<text x="58.23" y="161.63" font-size="7.25" textLength="10.25" lengthAdjust="spacingAndGlyphs">0</text>
<text x="58.23" y="161.99" font-size="7.25" textLength="10.25" lengthAdjust="spacingAndGlyphs">0</text>
<text x="48.89" y="161.63" font-size="7.25" textLength="9.64" lengthAdjust="spacingAndGlyphs">4</text>
<text x="48.89" y="161.99" font-size="7.25" textLength="9.64" lengthAdjust="spacingAndGlyphs">4</text>
<text x="67.98" y="138.07" font-size="7.25" textLength="10.25" lengthAdjust="spacingAndGlyphs">0</text>
<text x="67.98" y="138.43" font-size="7.25" textLength="10.25" lengthAdjust="spacingAndGlyphs">0</text>
<text x="58.23" y="138.07" font-size="7.25" textLength="10.25" lengthAdjust="spacingAndGlyphs">0</text>
<text x="58.23" y="138.43" font-size="7.25" textLength="10.25" lengthAdjust="spacingAndGlyphs">0</text>
<text x="48.15" y="138.07" font-size="7.25" textLength="10.68" lengthAdjust="spacingAndGlyphs">6</text>
<text x="48.15" y="138.43" font-size="7.25" textLength="10.68" lengthAdjust="spacingAndGlyphs">6</text>
<text x="45.80" y="124.87" font-size="7.25" textLength="7.11" lengthAdjust="spacingAndGlyphs">x</text>
<text x="45.80" y="125.23" font-size="7.25" textLength="7.11" lengthAdjust="spacingAndGlyphs">x</text>
<text x="67.65" y="124.87" font-size="7.25" textLength="10.39" lengthAdjust="spacingAndGlyphs">0</text>
<text x="67.65" y="125.23" font-size="7.25" textLength="10.39" lengthAdjust="spacingAndGlyphs">0</text>
<text x="81.37" y="122.12" font-size="6.40" textLength="6.85" lengthAdjust="spacingAndGlyphs">7</text>
<text x="81.37" y="122.48" font-size="6.40" textLength="6.85" lengthAdjust="spacingAndGlyphs">7</text>
<text x="117.00" y="334.82" font-size="7.25" textLength="8.60" lengthAdjust="spacingAndGlyphs">4</text>
<text x="117.00" y="335.18" font-size="7.25" textLength="8.60" lengthAdjust="spacingAndGlyphs">4</text>
<text x="171.47" y="334.82" font-size="7.25" textLength="9.24" lengthAdjust="spacingAndGlyphs">3</text>
<text x="171.47" y="335.18" font-size="7.25" textLength="9.24" lengthAdjust="spacingAndGlyphs">3</text>
<text x="226.01" y="334.82" font-size="7.25" textLength="9.68" lengthAdjust="spacingAndGlyphs">2</text>
<text x="226.01" y="335.18" font-size="7.25" textLength="9.68" lengthAdjust="spacingAndGlyphs">2</text>
<text x="329.34" y="334.82" font-size="7.25" textLength="9.98" lengthAdjust="spacingAndGlyphs">0</text>
<text x="329.34" y="335.18" font-size="7.25" textLength="9.98" lengthAdjust="spacingAndGlyphs">0</text>
<text x="438.69" y="334.82" font-size="7.25" textLength="10.56" lengthAdjust="spacingAndGlyphs">2</text>
<text x="438.69" y="335.18" font-size="7.25" textLength="10.56" lengthAdjust="spacingAndGlyphs">2</text>
<text x="493.88" y="334.82" font-size="7.25" textLength="10.07" lengthAdjust="spacingAndGlyphs">3</text>
<text x="493.88" y="335.18" font-size="7.25" textLength="10.07" lengthAdjust="spacingAndGlyphs">3</text>
<text x="549.15" y="334.82" font-size="7.25" textLength="9.38" lengthAdjust="spacingAndGlyphs">4</text>
<text x="549.15" y="335.18" font-size="7.25" textLength="9.38" lengthAdjust="spacingAndGlyphs">4</text>
<text x="114.51" y="138.12" font-size="7.85" textLength="11.84" lengthAdjust="spacingAndGlyphs">d</text>
<text x="114.51" y="138.48" font-size="7.85" textLength="11.84" lengthAdjust="spacingAndGlyphs">d</text>
<text x="142.31" y="138.12" font-size="7.85" textLength="10.78" lengthAdjust="spacingAndGlyphs">A</text>
<text x="142.31" y="138.48" font-size="7.85" textLength="10.78" lengthAdjust="spacingAndGlyphs">A</text>
<text x="153.52" y="138.12" font-size="7.85" textLength="11.09" lengthAdjust="spacingAndGlyphs">u</text>
<text x="153.52" y="138.48" font-size="7.85" textLength="11.09" lengthAdjust="spacingAndGlyphs">u</text>
<text x="199.50" y="138.12" font-size="7.85" textLength="13.48" lengthAdjust="spacingAndGlyphs">&#960;</text>
<text x="199.50" y="138.48" font-size="7.85" textLength="13.48" lengthAdjust="spacingAndGlyphs">&#960;</text>
<text x="219.05" y="138.12" font-size="7.85" textLength="8.21" lengthAdjust="spacingAndGlyphs">,</text>
<text x="219.05" y="138.48" font-size="7.85" textLength="8.21" lengthAdjust="spacingAndGlyphs">,</text>
<text x="231.93" y="138.12" font-size="7.85" textLength="14.88" lengthAdjust="spacingAndGlyphs">M</text>
<text x="231.93" y="138.48" font-size="7.85" textLength="14.88" lengthAdjust="spacingAndGlyphs">M</text>
<text x="247.96" y="138.12" font-size="7.85" textLength="3.88" lengthAdjust="spacingAndGlyphs">i</text>
<text x="247.96" y="138.48" font-size="7.85" textLength="3.88" lengthAdjust="spacingAndGlyphs">i</text>
<text x="252.38" y="138.12" font-size="7.85" textLength="12.70" lengthAdjust="spacingAndGlyphs">n</text>
<text x="252.38" y="138.48" font-size="7.85" textLength="12.70" lengthAdjust="spacingAndGlyphs">n</text>
<text x="264.91" y="138.12" font-size="7.85" textLength="14.54" lengthAdjust="spacingAndGlyphs">B</text>
<text x="264.91" y="138.48" font-size="7.85" textLength="14.54" lengthAdjust="spacingAndGlyphs">B</text>
<text x="280.56" y="138.12" font-size="7.85" textLength="3.88" lengthAdjust="spacingAndGlyphs">i</text>
<text x="280.56" y="138.48" font-size="7.85" textLength="3.88" lengthAdjust="spacingAndGlyphs">i</text>
<text x="285.60" y="138.12" font-size="7.85" textLength="9.24" lengthAdjust="spacingAndGlyphs">a</text>
<text x="285.60" y="138.48" font-size="7.85" textLength="9.24" lengthAdjust="spacingAndGlyphs">a</text>
<text x="296.68" y="138.12" font-size="7.85" textLength="8.15" lengthAdjust="spacingAndGlyphs">s</text>
<text x="296.68" y="138.48" font-size="7.85" textLength="8.15" lengthAdjust="spacingAndGlyphs">s</text>
<text x="213.42" y="135.12" font-size="6.20" textLength="6.86" lengthAdjust="spacingAndGlyphs">0</text>
<text x="213.42" y="135.48" font-size="6.20" textLength="6.86" lengthAdjust="spacingAndGlyphs">0</text>
<text x="141.85" y="153.22" font-size="7.85" textLength="12.84" lengthAdjust="spacingAndGlyphs">H</text>
<text x="141.85" y="153.58" font-size="7.85" textLength="12.84" lengthAdjust="spacingAndGlyphs">H</text>
<text x="154.81" y="153.22" font-size="7.85" textLength="3.28" lengthAdjust="spacingAndGlyphs">I</text>
<text x="154.81" y="153.58" font-size="7.85" textLength="3.28" lengthAdjust="spacingAndGlyphs">I</text>
<text x="158.38" y="153.22" font-size="7.85" textLength="10.39" lengthAdjust="spacingAndGlyphs">J</text>
<text x="158.38" y="153.58" font-size="7.85" textLength="10.39" lengthAdjust="spacingAndGlyphs">J</text>
<text x="168.91" y="153.22" font-size="7.85" textLength="3.28" lengthAdjust="spacingAndGlyphs">I</text>
<text x="168.91" y="153.58" font-size="7.85" textLength="3.28" lengthAdjust="spacingAndGlyphs">I</text>
<text x="172.15" y="153.22" font-size="7.85" textLength="12.84" lengthAdjust="spacingAndGlyphs">N</text>
<text x="172.15" y="153.58" font-size="7.85" textLength="12.84" lengthAdjust="spacingAndGlyphs">N</text>
<text x="197.03" y="153.22" font-size="7.85" textLength="7.64" lengthAdjust="spacingAndGlyphs">,</text>
<text x="197.03" y="153.58" font-size="7.85" textLength="7.64" lengthAdjust="spacingAndGlyphs">,</text>
<text x="209.86" y="153.22" font-size="7.85" textLength="8.05" lengthAdjust="spacingAndGlyphs">k</text>
<text x="209.86" y="153.58" font-size="7.85" textLength="8.05" lengthAdjust="spacingAndGlyphs">k</text>
<text x="245.12" y="153.22" font-size="7.85" textLength="11.95" lengthAdjust="spacingAndGlyphs">2</text>
<text x="245.12" y="153.58" font-size="7.85" textLength="11.95" lengthAdjust="spacingAndGlyphs">2</text>
<text x="257.20" y="153.22" font-size="7.85" textLength="4.75" lengthAdjust="spacingAndGlyphs">.</text>
<text x="257.20" y="153.58" font-size="7.85" textLength="4.75" lengthAdjust="spacingAndGlyphs">.</text>
<text x="262.05" y="153.22" font-size="7.85" textLength="11.82" lengthAdjust="spacingAndGlyphs">5</text>
<text x="262.05" y="153.58" font-size="7.85" textLength="11.82" lengthAdjust="spacingAndGlyphs">5</text>
<text x="292.89" y="153.22" font-size="7.85" textLength="9.29" lengthAdjust="spacingAndGlyphs">e</text>
<text x="292.89" y="153.58" font-size="7.85" textLength="9.29" lengthAdjust="spacingAndGlyphs">e</text>
<text x="302.10" y="153.22" font-size="7.85" textLength="11.33" lengthAdjust="spacingAndGlyphs">V</text>
<text x="302.10" y="153.58" font-size="7.85" textLength="11.33" lengthAdjust="spacingAndGlyphs">V</text>
<text x="218.43" y="154.22" font-size="5.00" textLength="4.54" lengthAdjust="spacingAndGlyphs">T</text>
<text x="218.43" y="154.58" font-size="5.00" textLength="4.54" lengthAdjust="spacingAndGlyphs">T</text>
<text x="224.83" y="149.60" font-size="4.90" textLength="6.35" lengthAdjust="spacingAndGlyphs">2</text>
<text x="224.83" y="150.10" font-size="4.90" textLength="6.35" lengthAdjust="spacingAndGlyphs">2</text>
<text x="224.83" y="149.85" font-size="4.90" textLength="6.35" lengthAdjust="spacingAndGlyphs">2</text>
<text x="313.45" y="149.60" font-size="4.90" textLength="6.10" lengthAdjust="spacingAndGlyphs">2</text>
<text x="313.45" y="150.10" font-size="4.90" textLength="6.10" lengthAdjust="spacingAndGlyphs">2</text>
<text x="313.45" y="149.85" font-size="4.90" textLength="6.10" lengthAdjust="spacingAndGlyphs">2</text>
<text x="143.14" y="163.72" font-size="7.85" textLength="11.88" lengthAdjust="spacingAndGlyphs">w</text>
<text x="143.14" y="164.08" font-size="7.85" textLength="11.88" lengthAdjust="spacingAndGlyphs">w</text>
<text x="157.06" y="163.72" font-size="7.85" textLength="2.88" lengthAdjust="spacingAndGlyphs">i</text>
<text x="157.06" y="164.08" font-size="7.85" textLength="2.88" lengthAdjust="spacingAndGlyphs">i</text>
<text x="160.10" y="163.72" font-size="7.85" textLength="7.29" lengthAdjust="spacingAndGlyphs">t</text>
<text x="160.10" y="164.08" font-size="7.85" textLength="7.29" lengthAdjust="spacingAndGlyphs">t</text>
<text x="166.60" y="163.72" font-size="7.85" textLength="10.86" lengthAdjust="spacingAndGlyphs">h</text>
<text x="166.60" y="164.08" font-size="7.85" textLength="10.86" lengthAdjust="spacingAndGlyphs">h</text>
<text x="189.08" y="163.72" font-size="7.85" textLength="15.06" lengthAdjust="spacingAndGlyphs">m</text>
<text x="189.08" y="164.08" font-size="7.85" textLength="15.06" lengthAdjust="spacingAndGlyphs">m</text>
<text x="204.03" y="163.72" font-size="7.85" textLength="11.72" lengthAdjust="spacingAndGlyphs">u</text>
<text x="204.03" y="164.08" font-size="7.85" textLength="11.72" lengthAdjust="spacingAndGlyphs">u</text>
<text x="216.25" y="163.72" font-size="7.85" textLength="2.88" lengthAdjust="spacingAndGlyphs">l</text>
<text x="216.25" y="164.08" font-size="7.85" textLength="2.88" lengthAdjust="spacingAndGlyphs">l</text>
<text x="220.40" y="163.72" font-size="7.85" textLength="7.40" lengthAdjust="spacingAndGlyphs">t</text>
<text x="220.40" y="164.08" font-size="7.85" textLength="7.40" lengthAdjust="spacingAndGlyphs">t</text>
<text x="229.06" y="163.72" font-size="7.85" textLength="3.88" lengthAdjust="spacingAndGlyphs">i</text>
<text x="229.06" y="164.08" font-size="7.85" textLength="3.88" lengthAdjust="spacingAndGlyphs">i</text>
<text x="233.77" y="163.72" font-size="7.85" textLength="9.94" lengthAdjust="spacingAndGlyphs">s</text>
<text x="233.77" y="164.08" font-size="7.85" textLength="9.94" lengthAdjust="spacingAndGlyphs">s</text>
<text x="244.84" y="163.72" font-size="7.85" textLength="10.07" lengthAdjust="spacingAndGlyphs">c</text>
<text x="244.84" y="164.08" font-size="7.85" textLength="10.07" lengthAdjust="spacingAndGlyphs">c</text>
<text x="255.00" y="163.72" font-size="7.85" textLength="10.51" lengthAdjust="spacingAndGlyphs">a</text>
<text x="255.00" y="164.08" font-size="7.85" textLength="10.51" lengthAdjust="spacingAndGlyphs">a</text>
<text x="266.73" y="163.72" font-size="7.85" textLength="6.85" lengthAdjust="spacingAndGlyphs">t</text>
<text x="266.73" y="164.08" font-size="7.85" textLength="6.85" lengthAdjust="spacingAndGlyphs">t</text>
<text x="274.61" y="163.72" font-size="7.85" textLength="7.18" lengthAdjust="spacingAndGlyphs">t</text>
<text x="274.61" y="164.08" font-size="7.85" textLength="7.18" lengthAdjust="spacingAndGlyphs">t</text>
<text x="281.99" y="163.72" font-size="7.85" textLength="10.98" lengthAdjust="spacingAndGlyphs">e</text>
<text x="281.99" y="164.08" font-size="7.85" textLength="10.98" lengthAdjust="spacingAndGlyphs">e</text>
<text x="292.88" y="163.72" font-size="7.85" textLength="8.13" lengthAdjust="spacingAndGlyphs">r</text>
<text x="292.88" y="164.08" font-size="7.85" textLength="8.13" lengthAdjust="spacingAndGlyphs">r</text>
<text x="302.26" y="163.72" font-size="7.85" textLength="2.88" lengthAdjust="spacingAndGlyphs">i</text>
<text x="302.26" y="164.08" font-size="7.85" textLength="2.88" lengthAdjust="spacingAndGlyphs">i</text>
<text x="304.72" y="163.72" font-size="7.85" textLength="10.61" lengthAdjust="spacingAndGlyphs">n</text>
<text x="304.72" y="164.08" font-size="7.85" textLength="10.61" lengthAdjust="spacingAndGlyphs">n</text>
<text x="315.39" y="163.72" font-size="7.85" textLength="8.00" lengthAdjust="spacingAndGlyphs">g</text>
<text x="315.39" y="164.08" font-size="7.85" textLength="8.00" lengthAdjust="spacingAndGlyphs">g</text>
<text x="141.85" y="176.62" font-size="7.85" textLength="12.84" lengthAdjust="spacingAndGlyphs">H</text>
<text x="141.85" y="176.98" font-size="7.85" textLength="12.84" lengthAdjust="spacingAndGlyphs">H</text>
<text x="154.81" y="176.62" font-size="7.85" textLength="3.28" lengthAdjust="spacingAndGlyphs">I</text>
<text x="154.81" y="176.98" font-size="7.85" textLength="3.28" lengthAdjust="spacingAndGlyphs">I</text>
<text x="158.38" y="176.62" font-size="7.85" textLength="10.39" lengthAdjust="spacingAndGlyphs">J</text>
<text x="158.38" y="176.98" font-size="7.85" textLength="10.39" lengthAdjust="spacingAndGlyphs">J</text>
<text x="168.91" y="176.62" font-size="7.85" textLength="3.28" lengthAdjust="spacingAndGlyphs">I</text>
<text x="168.91" y="176.98" font-size="7.85" textLength="3.28" lengthAdjust="spacingAndGlyphs">I</text>
<text x="172.15" y="176.62" font-size="7.85" textLength="12.84" lengthAdjust="spacingAndGlyphs">N</text>
<text x="172.15" y="176.98" font-size="7.85" textLength="12.84" lengthAdjust="spacingAndGlyphs">N</text>
<text x="197.03" y="176.62" font-size="7.85" textLength="7.64" lengthAdjust="spacingAndGlyphs">,</text>
<text x="197.03" y="176.98" font-size="7.85" textLength="7.64" lengthAdjust="spacingAndGlyphs">,</text>
<text x="209.86" y="176.62" font-size="7.85" textLength="8.05" lengthAdjust="spacingAndGlyphs">k</text>
<text x="209.86" y="176.98" font-size="7.85" textLength="8.05" lengthAdjust="spacingAndGlyphs">k</text>
<text x="245.12" y="176.62" font-size="7.85" textLength="11.95" lengthAdjust="spacingAndGlyphs">2</text>
<text x="245.12" y="176.98" font-size="7.85" textLength="11.95" lengthAdjust="spacingAndGlyphs">2</text>
<text x="257.20" y="176.62" font-size="7.85" textLength="4.75" lengthAdjust="spacingAndGlyphs">.</text>
<text x="257.20" y="176.98" font-size="7.85" textLength="4.75" lengthAdjust="spacingAndGlyphs">.</text>
<text x="262.05" y="176.62" font-size="7.85" textLength="11.82" lengthAdjust="spacingAndGlyphs">5</text>
<text x="262.05" y="176.98" font-size="7.85" textLength="11.82" lengthAdjust="spacingAndGlyphs">5</text>
<text x="292.89" y="176.62" font-size="7.85" textLength="9.29" lengthAdjust="spacingAndGlyphs">e</text>
<text x="292.89" y="176.98" font-size="7.85" textLength="9.29" lengthAdjust="spacingAndGlyphs">e</text>
<text x="302.10" y="176.62" font-size="7.85" textLength="11.33" lengthAdjust="spacingAndGlyphs">V</text>
<text x="302.10" y="176.98" font-size="7.85" textLength="11.33" lengthAdjust="spacingAndGlyphs">V</text>
<text x="218.43" y="177.62" font-size="5.00" textLength="4.54" lengthAdjust="spacingAndGlyphs">T</text>
<text x="218.43" y="177.98" font-size="5.00" textLength="4.54" lengthAdjust="spacingAndGlyphs">T</text>
<text x="224.83" y="173.00" font-size="4.90" textLength="6.35" lengthAdjust="spacingAndGlyphs">2</text>
<text x="224.83" y="173.50" font-size="4.90" textLength="6.35" lengthAdjust="spacingAndGlyphs">2</text>
<text x="224.83" y="173.25" font-size="4.90" textLength="6.35" lengthAdjust="spacingAndGlyphs">2</text>
<text x="313.45" y="173.00" font-size="4.90" textLength="6.10" lengthAdjust="spacingAndGlyphs">2</text>
<text x="313.45" y="173.50" font-size="4.90" textLength="6.10" lengthAdjust="spacingAndGlyphs">2</text>
<text x="313.45" y="173.25" font-size="4.90" textLength="6.10" lengthAdjust="spacingAndGlyphs">2</text>
<text x="141.85" y="188.32" font-size="7.85" textLength="12.84" lengthAdjust="spacingAndGlyphs">H</text>
<text x="141.85" y="188.68" font-size="7.85" textLength="12.84" lengthAdjust="spacingAndGlyphs">H</text>
<text x="154.81" y="188.32" font-size="7.85" textLength="3.28" lengthAdjust="spacingAndGlyphs">I</text>
<text x="154.81" y="188.68" font-size="7.85" textLength="3.28" lengthAdjust="spacingAndGlyphs">I</text>
<text x="158.38" y="188.32" font-size="7.85" textLength="10.39" lengthAdjust="spacingAndGlyphs">J</text>
<text x="158.38" y="188.68" font-size="7.85" textLength="10.39" lengthAdjust="spacingAndGlyphs">J</text>
<text x="168.91" y="188.32" font-size="7.85" textLength="3.28" lengthAdjust="spacingAndGlyphs">I</text>
<text x="168.91" y="188.68" font-size="7.85" textLength="3.28" lengthAdjust="spacingAndGlyphs">I</text>
<text x="172.15" y="188.32" font-size="7.85" textLength="12.84" lengthAdjust="spacingAndGlyphs">N</text>
<text x="172.15" y="188.68" font-size="7.85" textLength="12.84" lengthAdjust="spacingAndGlyphs">N</text>
<text x="197.03" y="188.32" font-size="7.85" textLength="7.64" lengthAdjust="spacingAndGlyphs">,</text>
<text x="197.03" y="188.68" font-size="7.85" textLength="7.64" lengthAdjust="spacingAndGlyphs">,</text>
<text x="209.86" y="188.32" font-size="7.85" textLength="8.05" lengthAdjust="spacingAndGlyphs">k</text>
<text x="209.86" y="188.68" font-size="7.85" textLength="8.05" lengthAdjust="spacingAndGlyphs">k</text>
<text x="245.41" y="188.32" font-size="7.85" textLength="11.29" lengthAdjust="spacingAndGlyphs">0</text>
<text x="245.41" y="188.68" font-size="7.85" textLength="11.29" lengthAdjust="spacingAndGlyphs">0</text>
<text x="257.20" y="188.32" font-size="7.85" textLength="4.75" lengthAdjust="spacingAndGlyphs">.</text>
<text x="257.20" y="188.68" font-size="7.85" textLength="4.75" lengthAdjust="spacingAndGlyphs">.</text>
<text x="262.08" y="188.32" font-size="7.85" textLength="11.71" lengthAdjust="spacingAndGlyphs">0</text>
<text x="262.08" y="188.68" font-size="7.85" textLength="11.71" lengthAdjust="spacingAndGlyphs">0</text>
<text x="292.89" y="188.32" font-size="7.85" textLength="9.29" lengthAdjust="spacingAndGlyphs">e</text>
<text x="292.89" y="188.68" font-size="7.85" textLength="9.29" lengthAdjust="spacingAndGlyphs">e</text>
<text x="302.10" y="188.32" font-size="7.85" textLength="11.33" lengthAdjust="spacingAndGlyphs">V</text>
<text x="302.10" y="188.68" font-size="7.85" textLength="11.33" lengthAdjust="spacingAndGlyphs">V</text>
<text x="218.43" y="189.32" font-size="5.00" textLength="4.54" lengthAdjust="spacingAndGlyphs">T</text>
<text x="218.43" y="189.68" font-size="5.00" textLength="4.54" lengthAdjust="spacingAndGlyphs">T</text>
<text x="224.83" y="184.70" font-size="4.90" textLength="6.35" lengthAdjust="spacingAndGlyphs">2</text>
<text x="224.83" y="185.20" font-size="4.90" textLength="6.35" lengthAdjust="spacingAndGlyphs">2</text>
<text x="224.83" y="184.95" font-size="4.90" textLength="6.35" lengthAdjust="spacingAndGlyphs">2</text>
<text x="313.45" y="184.70" font-size="4.90" textLength="6.10" lengthAdjust="spacingAndGlyphs">2</text>
<text x="313.45" y="185.20" font-size="4.90" textLength="6.10" lengthAdjust="spacingAndGlyphs">2</text>
<text x="313.45" y="184.95" font-size="4.90" textLength="6.10" lengthAdjust="spacingAndGlyphs">2</text>
<text x="459.62" y="138.72" font-size="8.35" textLength="8.84" lengthAdjust="spacingAndGlyphs">s</text>
<text x="459.62" y="139.08" font-size="8.35" textLength="8.84" lengthAdjust="spacingAndGlyphs">s</text>
<text x="484.58" y="138.72" font-size="8.35" textLength="12.33" lengthAdjust="spacingAndGlyphs">2</text>
<text x="484.58" y="139.08" font-size="8.35" textLength="12.33" lengthAdjust="spacingAndGlyphs">2</text>
<text x="496.96" y="138.72" font-size="8.35" textLength="11.98" lengthAdjust="spacingAndGlyphs">0</text>
<text x="496.96" y="139.08" font-size="8.35" textLength="11.98" lengthAdjust="spacingAndGlyphs">0</text>
<text x="509.44" y="138.72" font-size="8.35" textLength="12.22" lengthAdjust="spacingAndGlyphs">0</text>
<text x="509.44" y="139.08" font-size="8.35" textLength="12.22" lengthAdjust="spacingAndGlyphs">0</text>
<text x="528.79" y="138.72" font-size="8.35" textLength="11.69" lengthAdjust="spacingAndGlyphs">A</text>
<text x="528.79" y="139.08" font-size="8.35" textLength="11.69" lengthAdjust="spacingAndGlyphs">A</text>
<text x="554.89" y="138.72" font-size="8.35" textLength="9.71" lengthAdjust="spacingAndGlyphs">e</text>
<text x="554.89" y="139.08" font-size="8.35" textLength="9.71" lengthAdjust="spacingAndGlyphs">e</text>
<text x="565.66" y="138.72" font-size="8.35" textLength="10.18" lengthAdjust="spacingAndGlyphs">V</text>
<text x="565.66" y="139.08" font-size="8.35" textLength="10.18" lengthAdjust="spacingAndGlyphs">V</text>
<text x="444.03" y="153.82" font-size="8.35" textLength="9.62" lengthAdjust="spacingAndGlyphs">p</text>
<text x="444.03" y="154.18" font-size="8.35" textLength="9.62" lengthAdjust="spacingAndGlyphs">p</text>
<text x="475.03" y="153.82" font-size="8.35" textLength="11.80" lengthAdjust="spacingAndGlyphs">2</text>
<text x="475.03" y="154.18" font-size="8.35" textLength="11.80" lengthAdjust="spacingAndGlyphs">2</text>
<text x="487.60" y="153.82" font-size="8.35" textLength="4.75" lengthAdjust="spacingAndGlyphs">.</text>
<text x="487.60" y="154.18" font-size="8.35" textLength="4.75" lengthAdjust="spacingAndGlyphs">.</text>
<text x="492.95" y="153.82" font-size="8.35" textLength="11.66" lengthAdjust="spacingAndGlyphs">2</text>
<text x="492.95" y="154.18" font-size="8.35" textLength="11.66" lengthAdjust="spacingAndGlyphs">2</text>
<text x="504.73" y="153.82" font-size="8.35" textLength="12.08" lengthAdjust="spacingAndGlyphs">5</text>
<text x="504.73" y="154.18" font-size="8.35" textLength="12.08" lengthAdjust="spacingAndGlyphs">5</text>
<text x="535.09" y="153.82" font-size="8.35" textLength="10.14" lengthAdjust="spacingAndGlyphs">e</text>
<text x="535.09" y="154.18" font-size="8.35" textLength="10.14" lengthAdjust="spacingAndGlyphs">e</text>
<text x="546.29" y="153.82" font-size="8.35" textLength="9.95" lengthAdjust="spacingAndGlyphs">V</text>
<text x="546.29" y="154.18" font-size="8.35" textLength="9.95" lengthAdjust="spacingAndGlyphs">V</text>
<text x="570.40" y="153.82" font-size="8.35" textLength="7.14" lengthAdjust="spacingAndGlyphs">c</text>
<text x="570.40" y="154.18" font-size="8.35" textLength="7.14" lengthAdjust="spacingAndGlyphs">c</text>
<text x="453.43" y="154.82" font-size="5.20" textLength="4.75" lengthAdjust="spacingAndGlyphs">T</text>
<text x="453.43" y="155.18" font-size="5.20" textLength="4.75" lengthAdjust="spacingAndGlyphs">T</text>
</g>
<clipPath id="thin">
<text transform="translate(30.65,231.40) rotate(-90) scale(0.3264,1)" font-size="26.0">E</text>
<text transform="translate(30.65,231.80) rotate(-90) scale(0.3264,1)" font-size="26.0">E</text>
<text transform="translate(30.65,224.98) rotate(-90) scale(0.4362,1)" font-size="26.0">d</text>
<text transform="translate(30.65,225.38) rotate(-90) scale(0.4362,1)" font-size="26.0">d</text>
<text transform="translate(30.65,213.88) rotate(-90) scale(0.3502,1)" font-size="26.0">&#963;</text>
<text transform="translate(30.65,214.28) rotate(-90) scale(0.3502,1)" font-size="26.0">&#963;</text>
<text transform="translate(30.65,198.88) rotate(-90) scale(0.4362,1)" font-size="26.0">d</text>
<text transform="translate(30.65,199.28) rotate(-90) scale(0.4362,1)" font-size="26.0">d</text>
<text transform="translate(30.65,189.15) rotate(-90) scale(0.4447,1)" font-size="26.0">p</text>
<text transform="translate(30.65,189.55) rotate(-90) scale(0.4447,1)" font-size="26.0">p</text>
<text transform="translate(30.65,173.63) rotate(-90) scale(0.4362,1)" font-size="26.0">p</text>
<text transform="translate(30.65,174.03) rotate(-90) scale(0.4362,1)" font-size="26.0">p</text>
<text transform="translate(30.65,166.93) rotate(-90) scale(0.4362,1)" font-size="26.0">b</text>
<text transform="translate(30.65,167.33) rotate(-90) scale(0.4362,1)" font-size="26.0">b</text>
<text transform="translate(30.65,152.50) rotate(-90) scale(0.3829,1)" font-size="26.0">G</text>
<text transform="translate(30.65,152.90) rotate(-90) scale(0.3829,1)" font-size="26.0">G</text>
<text transform="translate(30.65,144.83) rotate(-90) scale(0.3852,1)" font-size="26.0">e</text>
<text transform="translate(30.65,145.23) rotate(-90) scale(0.3852,1)" font-size="26.0">e</text>
<text transform="translate(30.65,138.64) rotate(-90) scale(0.3798,1)" font-size="26.0">V</text>
<text transform="translate(30.65,139.04) rotate(-90) scale(0.3798,1)" font-size="26.0">V</text>
</clipPath>
<g clip-path="url(#thin)" style="fill:#111">
<text transform="translate(29.55,231.40) rotate(-90) scale(0.3264,1)" font-size="26.0">E</text>
<text transform="translate(29.55,231.80) rotate(-90) scale(0.3264,1)" font-size="26.0">E</text>
<text transform="translate(29.55,224.98) rotate(-90) scale(0.4362,1)" font-size="26.0">d</text>
<text transform="translate(29.55,225.38) rotate(-90) scale(0.4362,1)" font-size="26.0">d</text>
<text transform="translate(29.55,213.88) rotate(-90) scale(0.3502,1)" font-size="26.0">&#963;</text>
<text transform="translate(29.55,214.28) rotate(-90) scale(0.3502,1)" font-size="26.0">&#963;</text>
<text transform="translate(29.55,198.88) rotate(-90) scale(0.4362,1)" font-size="26.0">d</text>
<text transform="translate(29.55,199.28) rotate(-90) scale(0.4362,1)" font-size="26.0">d</text>
<text transform="translate(29.55,189.15) rotate(-90) scale(0.4447,1)" font-size="26.0">p</text>
<text transform="translate(29.55,189.55) rotate(-90) scale(0.4447,1)" font-size="26.0">p</text>
<text transform="translate(29.55,173.63) rotate(-90) scale(0.4362,1)" font-size="26.0">p</text>
<text transform="translate(29.55,174.03) rotate(-90) scale(0.4362,1)" font-size="26.0">p</text>
<text transform="translate(29.55,166.93) rotate(-90) scale(0.4362,1)" font-size="26.0">b</text>
<text transform="translate(29.55,167.33) rotate(-90) scale(0.4362,1)" font-size="26.0">b</text>
<text transform="translate(29.55,152.50) rotate(-90) scale(0.3829,1)" font-size="26.0">G</text>
<text transform="translate(29.55,152.90) rotate(-90) scale(0.3829,1)" font-size="26.0">G</text>
<text transform="translate(29.55,144.83) rotate(-90) scale(0.3852,1)" font-size="26.0">e</text>
<text transform="translate(29.55,145.23) rotate(-90) scale(0.3852,1)" font-size="26.0">e</text>
<text transform="translate(29.55,138.64) rotate(-90) scale(0.3798,1)" font-size="26.0">V</text>
<text transform="translate(29.55,139.04) rotate(-90) scale(0.3798,1)" font-size="26.0">V</text>
</g>
<text transform="translate(17.10,218.56) rotate(-90) scale(0.4354,1)" font-size="15.5">3</text>
<text transform="translate(17.10,218.96) rotate(-90) scale(0.4354,1)" font-size="15.5">3</text>
<text transform="translate(17.10,192.96) rotate(-90) scale(0.4354,1)" font-size="15.5">3</text>
<text transform="translate(17.10,193.36) rotate(-90) scale(0.4354,1)" font-size="15.5">3</text>
<text transform="translate(17.10,132.25) rotate(-90) scale(0.4532,1)" font-size="15.5">2</text>
<text transform="translate(17.10,132.65) rotate(-90) scale(0.4532,1)" font-size="15.5">2</text>
<path d="M34.9 207.3L8.1 200M34.9 160L8.1 152.9" fill="none" stroke="#111" stroke-width="1.0"/>
<path d="M7.9 127.4Q21.5 122.1 35 127.8M7.9 175.0Q21.5 181.0 35.2 175.0" fill="none" stroke="#111" stroke-width="1.0"/>
</g>
</svg>
</body></html>
